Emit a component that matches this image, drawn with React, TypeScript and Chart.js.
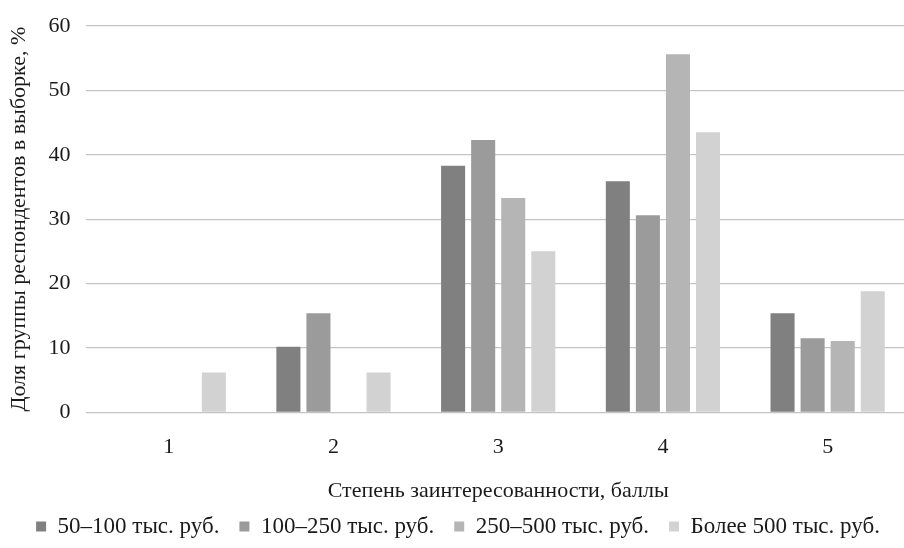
import React, { useEffect, useRef } from "react";
import { Chart, registerables } from "chart.js";

Chart.register(...registerables);

const categories = ["1", "2", "3", "4", "5"];
const seriesNames = ["50–100 тыс. руб.", "100–250 тыс. руб.", "250–500 тыс. руб.", "Более 500 тыс. руб."];
const s50_100 = [0, 10.2, 38.3, 35.9, 15.4];
const s100_250 = [0, 15.4, 42.3, 30.6, 11.5];
const s250_500 = [0, 0, 33.3, 55.6, 11.1];
const sOver500 = [6.2, 6.2, 25.0, 43.5, 18.8];
const colors = ["#808080", "#9b9b9b", "#b5b5b5", "#d2d2d2"];
const yTitle = "Доля группы респондентов в выборке, %";
const xTitle = "Степень заинтересованности, баллы";

export default function App() {
  const ref = useRef<HTMLCanvasElement | null>(null);
  useEffect(() => {
    if (!ref.current) return;
    const font = "'Liberation Serif', 'Times New Roman', serif";
    const data = [s50_100, s100_250, s250_500, sOver500];
    const chart = new Chart(ref.current, {
      type: "bar",
      data: {
        labels: categories,
        datasets: data.map((d, i) => ({
          label: seriesNames[i],
          data: d,
          backgroundColor: colors[i],
          borderWidth: 0,
          categoryPercentage: 0.73,
          barPercentage: 0.8,
        })),
      },
      options: {
        animation: false,
        responsive: true,
        maintainAspectRatio: false,
        layout: { padding: { left: 6, right: 0, top: 0, bottom: 0 } },
        plugins: {
          tooltip: { enabled: false },
          legend: {
            position: "bottom",
            labels: {
              font: { family: font, size: 23 },
              color: "#1a1a1a",
              boxWidth: 10,
              boxHeight: 10,
              padding: 20,
            },
          },
        },
        scales: {
          x: {
            grid: { display: false },
            border: { display: false },
            ticks: { font: { family: font, size: 22 }, color: "#1a1a1a", padding: 13.4 },
            title: {
              display: true,
              text: xTitle,
              font: { family: font, size: 22 },
              color: "#1a1a1a",
              padding: { top: 4, bottom: -9 },
            },
          },
          y: {
            min: 0,
            max: 60,
            ticks: { stepSize: 10, font: { family: font, size: 22, lineHeight: 0.9 }, color: "#1a1a1a", padding: 16 },
            grid: { color: "#c4c4c4", lineWidth: 1.3, drawTicks: false },
            border: { display: false },
            title: {
              display: true,
              text: yTitle,
              font: { family: font, size: 22 },
              color: "#1a1a1a",
              padding: { top: 0, bottom: 0 },
            },
          },
        },
      },
    });
    return () => chart.destroy();
  }, []);
  return (
    <div style={{ position: "fixed", left: 0, top: 0, width: 904, height: 548, overflow: "hidden", background: "#fff" }}>
      <div style={{ position: "absolute", left: 0, top: 0, width: 910, height: 548 }}>
        <canvas ref={ref} />
      </div>
    </div>
  );
}
